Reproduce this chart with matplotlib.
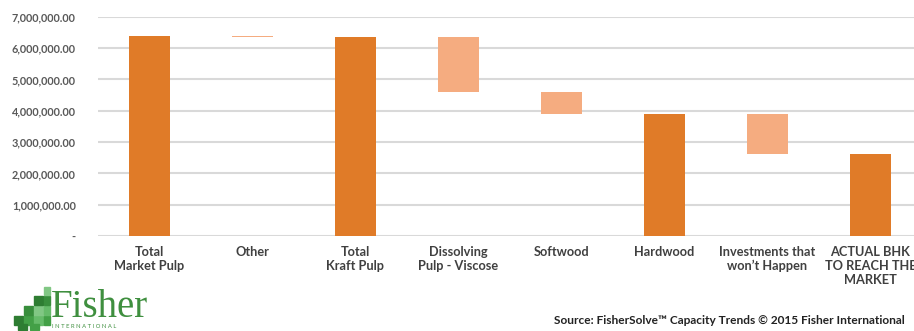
import numpy as np
import matplotlib
matplotlib.use("Agg")
import matplotlib.pyplot as plt
from matplotlib.patches import Rectangle
from matplotlib.ticker import FuncFormatter

# waterfall data (capacity, tonnes)
categories = ["Total\nMarket Pulp", "Other", "Total\nKraft Pulp", "Dissolving\nPulp - Viscose",
              "Softwood", "Hardwood", "Investments that\nwon\u2019t Happen",
              "ACTUAL BHK\nTO REACH THE\nMARKET"]
bar_start = [0, 6400000, 0, 6350000, 4610000, 0, 3890000, 0]
bar_end = [6400000, 6350000, 6350000, 4610000, 3900000, 3890000, 2610000, 2610000]
is_total = [True, False, True, False, False, True, False, True]
yticks = [0, 1000000, 2000000, 3000000, 4000000, 5000000, 6000000, 7000000]

dark = "#E07B28"
light = "#F5AC80"

fig = plt.figure(figsize=(9.14, 3.31), dpi=100)
ax = fig.add_axes([0.1072, 0.287, 0.9015, 0.6625])

x = np.arange(len(categories))
lo = np.minimum(bar_start, bar_end)
hi = np.maximum(bar_start, bar_end)
cols = [dark if t else light for t in is_total]
ax.bar(x, hi - lo, bottom=lo, width=0.4, color=cols, zorder=3)

ax.set_xlim(-0.5, len(categories) - 0.5)
ax.set_ylim(0, 7000000)
ax.set_yticks(yticks)
ax.yaxis.set_major_formatter(FuncFormatter(lambda v, p: "-" if v == 0 else f"{v:,.2f}"))
ax.grid(axis="y", color="#d9d9d9", linewidth=1.5, zorder=0)
for s in ax.spines.values():
    s.set_visible(False)
ax.tick_params(axis="both", length=0)
ax.tick_params(axis="y", labelsize=7.8, labelcolor="#595959", pad=16)
for lab in ax.get_yticklabels():
    lab.set_fontweight("bold")
    lab.set_family("Lato")

ax.set_xticks(x)
ax.set_xticklabels(categories, fontsize=9.2, fontweight="bold", color="#404040",
                   family="Lato", linespacing=1.2)
ax.tick_params(axis="x", pad=7)

# logo
greens = ["#2e7d32", "#43a047", "#66bb6a", "#388e3c", "#81c784"]
blocks = [(14, 316, 9, 9), (24, 316, 9, 9), (34, 316, 9, 9), (24, 306, 9, 9),
          (34, 306, 9, 9), (34, 296, 9, 9), (44, 316, 6, 9), (44, 306, 6, 9),
          (44, 296, 6, 9), (44, 287, 6, 8), (18, 324, 9, 6), (30, 324, 9, 6)]
for i, (bx, by, bw, bh) in enumerate(blocks):
    fig.patches.append(Rectangle((bx / 914, 1 - (by + bh) / 331), bw / 914, bh / 331,
                                 transform=fig.transFigure, color=greens[i % len(greens)]))
fig.text(51 / 914, 1 - 317 / 331, "Fisher", family="Liberation Serif", fontsize=28,
         color="#3f8f3f", va="baseline")
fig.text(52 / 914, 1 - 327 / 331, "I N T E R N A T I O N A L", family="Lato",
         fontsize=4.2, color="#3f8f3f", va="center")

fig.text(554 / 914, 1 - 321 / 331,
         "Source: FisherSolve\u2122 Capacity Trends \u00a9 2015 Fisher International",
         fontsize=8.6, fontweight="bold", color="#222222", family="Lato", va="center")

fig.savefig("out.png", dpi=100)
